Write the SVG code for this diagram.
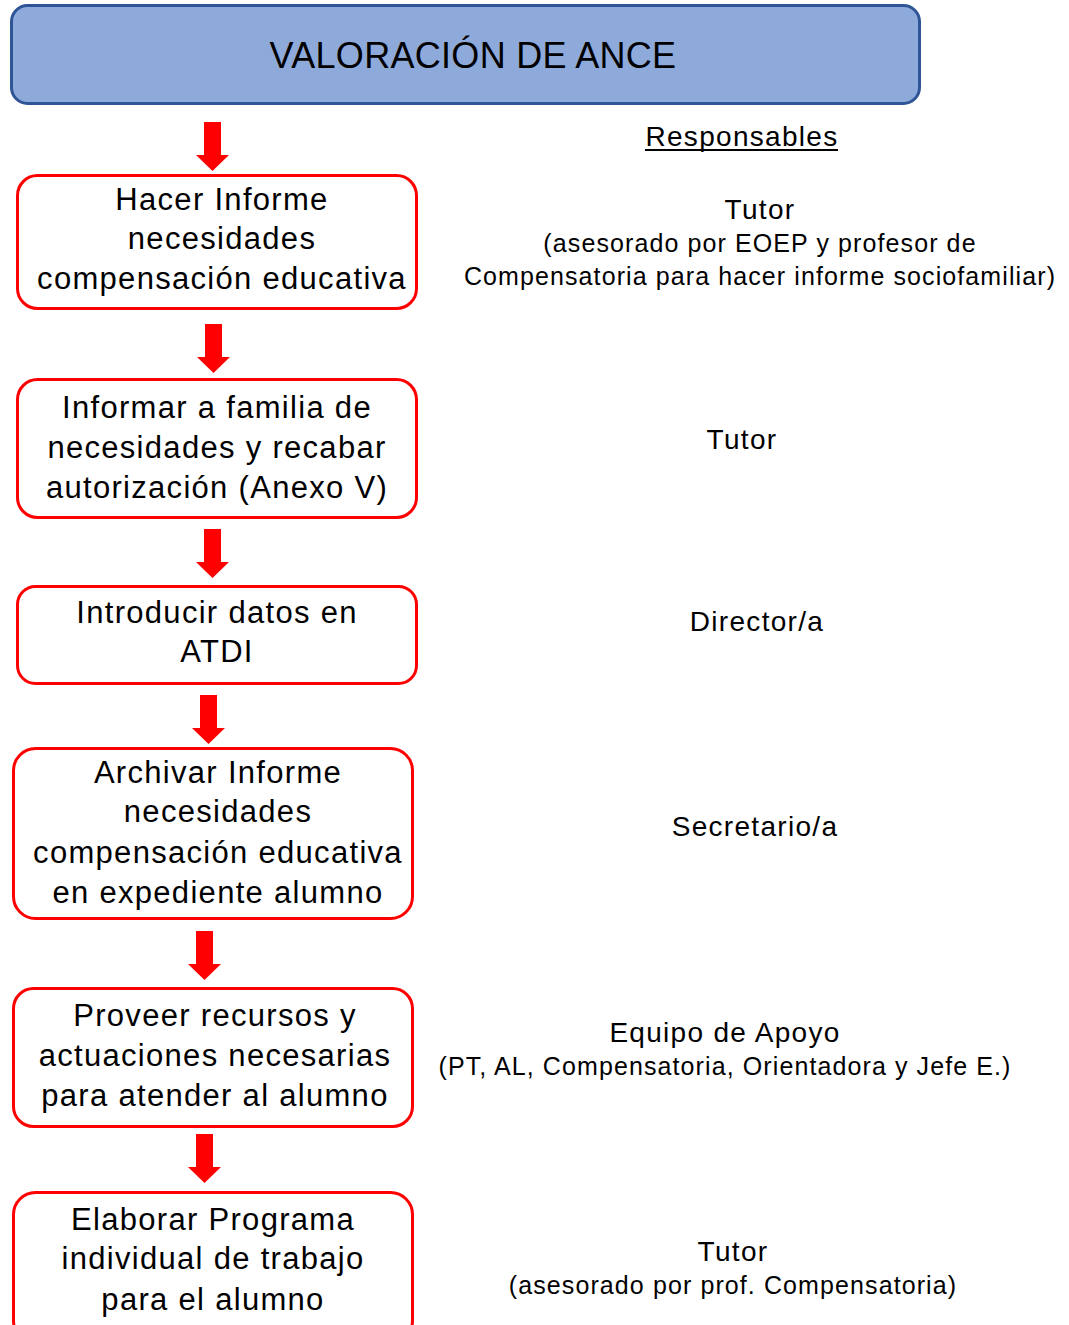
<svg xmlns="http://www.w3.org/2000/svg" width="1069" height="1325" viewBox="0 0 1069 1325">
<defs>
<style>
.t{font-family:"Liberation Sans",Arial,sans-serif;fill:#000;text-anchor:middle}
.b{font-size:31px;letter-spacing:1.3px}
.r{font-size:28px;letter-spacing:1.3px}
.s{font-size:25px;letter-spacing:1.1px}
.box{fill:#fff;stroke:#ff0000;stroke-width:3}
.arr{fill:#ff0000}
</style>
<path id="ar" d="M-8.5,0 H8.5 V33 H16.5 L0,49 L-16.5,33 H-8.5 Z"/>
</defs>
<rect width="1069" height="1325" fill="#fff"/>
<g id="header">
<rect x="11.5" y="5.5" width="908" height="98" rx="16" fill="#8EAADB" stroke="#2F5597" stroke-width="3"/>
<text class="t" x="473" y="68" font-size="36" letter-spacing="0.3">VALORACIÓN DE ANCE</text>
</g>
<g id="connectors" class="arr">
<use href="#ar" x="212.5" y="122"/>
<use href="#ar" x="213.5" y="324"/>
<use href="#ar" x="212.5" y="529"/>
<use href="#ar" x="208.5" y="695"/>
<use href="#ar" x="204.5" y="931"/>
<use href="#ar" x="204.5" y="1134"/>
</g>
<g id="n1">
<rect class="box" x="17.5" y="175.5" width="399" height="133" rx="20"/>
<text class="t b" x="222" y="210">Hacer Informe</text>
<text class="t b" x="222" y="249">necesidades</text>
<text class="t b" x="222" y="289">compensación educativa</text>
</g>
<g id="n2">
<rect class="box" x="17.5" y="379.5" width="399" height="138" rx="20"/>
<text class="t b" x="217" y="418">Informar a familia de</text>
<text class="t b" x="217" y="458">necesidades y recabar</text>
<text class="t b" x="217" y="498">autorización (Anexo V)</text>
</g>
<g id="n3">
<rect class="box" x="17.5" y="586.5" width="399" height="97" rx="18"/>
<text class="t b" x="217" y="623">Introducir datos en</text>
<text class="t b" x="217" y="662">ATDI</text>
</g>
<g id="n4">
<rect class="box" x="13.5" y="748.5" width="399" height="170" rx="22"/>
<text class="t b" x="218" y="783">Archivar Informe</text>
<text class="t b" x="218" y="822">necesidades</text>
<text class="t b" x="218" y="863">compensación educativa</text>
<text class="t b" x="218" y="903">en expediente alumno</text>
</g>
<g id="n5">
<rect class="box" x="13.5" y="988.5" width="399" height="138" rx="20"/>
<text class="t b" x="215" y="1026">Proveer recursos y</text>
<text class="t b" x="215" y="1066">actuaciones necesarias</text>
<text class="t b" x="215" y="1106">para atender al alumno</text>
</g>
<g id="n6">
<rect class="box" x="13.5" y="1192.5" width="399" height="150" rx="22"/>
<text class="t b" x="213" y="1230">Elaborar Programa</text>
<text class="t b" x="213" y="1269">individual de trabajo</text>
<text class="t b" x="213" y="1310">para el alumno</text>
</g>
<g id="responsables">
<text class="t r" x="742" y="146">Responsables</text>
<rect x="645" y="149" width="193" height="2" fill="#000"/>
<text class="t r" x="760" y="219">Tutor</text>
<text class="t s" x="760" y="252">(asesorado por EOEP y profesor de</text>
<text class="t s" x="760" y="285">Compensatoria para hacer informe sociofamiliar)</text>
<text class="t r" x="742" y="449">Tutor</text>
<text class="t r" x="757" y="631">Director/a</text>
<text class="t r" x="755" y="836">Secretario/a</text>
<text class="t r" x="725" y="1042">Equipo de Apoyo</text>
<text class="t s" x="725" y="1075">(PT, AL, Compensatoria, Orientadora y Jefe E.)</text>
<text class="t r" x="733" y="1261">Tutor</text>
<text class="t s" x="733" y="1294">(asesorado por prof. Compensatoria)</text>
</g>
</svg>
